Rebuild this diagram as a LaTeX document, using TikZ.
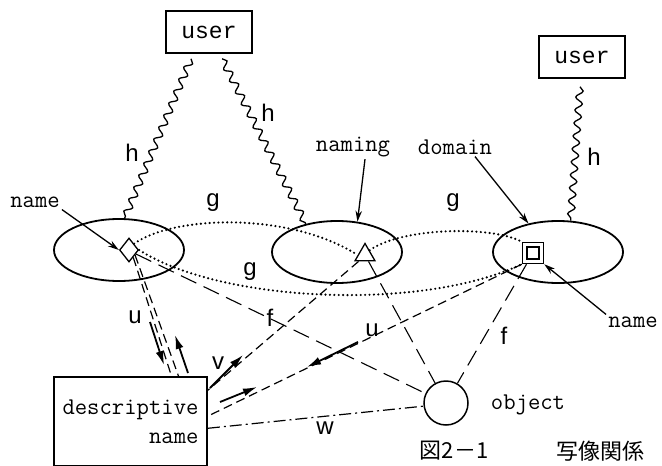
\documentclass[tikz,border=0pt]{standalone}
\usepackage{fontspec}
\usepackage{tikz}
\usetikzlibrary{shapes.geometric,arrows.meta,decorations.pathmorphing}
\newfontfamily\lblfont{Liberation Sans}
\newfontfamily\userfont{Liberation Mono}
\newfontfamily\cjk{Noto Sans CJK JP}

\tikzset{
  userbox/.style={draw, line width=1.5pt, minimum width=86pt, minimum height=42pt, font=\userfont\fontsize{23}{23}\selectfont},
  dom/.style={draw, ellipse, line width=1.8pt, minimum width=130pt, minimum height=62pt},
  word/.style={inner sep=2pt, font=\ttfamily\fontsize{24}{29}\selectfont},
  lbl/.style={inner sep=1pt, font=\lblfont\fontsize{24}{24}\selectfont},
  wavy/.style={decorate, decoration={snake, segment length=13pt, amplitude=3.5pt}, line width=1.3pt},
  dots/.style={line width=2.4pt, line cap=round, dash pattern=on 0pt off 4.4pt},
  sdash/.style={line width=1.2pt, dash pattern=on 9pt off 5pt},
  ldash/.style={line width=1.1pt, dash pattern=on 17pt off 8pt},
  dashdot/.style={line width=1.2pt, dash pattern=on 12pt off 4pt on 2pt off 4pt},
  arr/.style={-{Latex[length=14pt,width=8pt]}, line width=1.8pt},
  ptr/.style={-{Stealth[length=11pt,width=6.5pt]}, line width=1.3pt},
}

\begin{document}
\begin{tikzpicture}[x=1pt,y=-1pt]
\useasboundingbox (0,0) rectangle (662,466);

% users
\node[userbox] (userl) at (209,32) {user};
\node[userbox] (userr) at (582,57) {user};

% naming domains
\node[dom] (doml) at (119,250) {};
\node[dom] (domm) at (337,252) {};
\node[dom] (domr) at (558,252) {};

% names in the domains
\node[diamond, draw, line width=1.3pt, minimum width=19pt, minimum height=24pt, inner sep=0pt] (dia) at (129,250) {};
\node[regular polygon, regular polygon sides=3, draw, line width=1.3pt, minimum size=23pt, inner sep=0pt] (tri) at (365,255) {};
\node[draw, line width=1.5pt, minimum size=21pt, inner sep=0pt] (sq) at (533,253) {};
\node[draw, line width=1.1pt, minimum size=12pt, inner sep=0pt] (sqin) at (sq) {};

% descriptive name, object
\node[draw, line width=1.8pt, minimum width=153pt, minimum height=89pt, align=right, word] (desc) at (130.5,421.5) {descriptive\\name};
\node[circle, draw, line width=1.5pt, minimum size=44pt] (obj) at (446,403) {};
\node[word] (objtxt) at (528,405) {object};

% pointers
\node[word] (namel) at (35,202) {name};
\node[word] (naming) at (353,147) {naming};
\node[word] (domain) at (455,147) {domain};
\node[word] (namer) at (633,322) {name};
\draw[ptr] (namel.south east) -- (dia.west);
\draw[ptr] ([xshift=12pt]naming.south) -- (domm.56);
\draw[ptr] ([xshift=20pt]domain.south) -- (domr.136);
\draw[ptr] (namer.north west) -- (sq.south east);

% h
\draw[wavy] ([xshift=-18pt,yshift=-5pt]userl.south) -- (doml.80);
\draw[wavy] ([xshift=13pt,yshift=-5pt]userl.south) -- (domm.138);
\draw[wavy] ([xshift=-2pt,yshift=-8pt]userr.south) -- (domr.68);
\node[lbl] (hl) at (132,153) {h};
\node[lbl] (hm) at (268,113) {h};
\node[lbl] (hr) at (594,157) {h};

% g
\draw[dots] (dia.north east) .. controls (175,215) and (290,212) .. (tri.west);
\draw[dots] (dia.east) .. controls (220,302) and (420,312) .. (sq.south west);
\draw[dots] (tri.north east) .. controls (400,228) and (490,225) .. (sq.north west);
\node[lbl] (gl) at (213,203) {g};
\node[lbl] (gm) at (250,272) {g};
\node[lbl] (gr) at (453,203) {g};

% u, v
\draw[sdash] (dia.-60) -- ([xshift=41pt]desc.north);
\draw[sdash] (dia.-40) -- ([xshift=48pt]desc.north);
\draw[sdash] (tri.south west) -- (desc.22);
\draw[sdash] (sq.south west) -- (desc.4);
\draw[arr] (150,322) -- (164,365);
\draw[arr] (188,373) -- (175,335);
\draw[arr] (210,388) -- (243,355);
\draw[arr] (220,402) -- (257,387);
\draw[arr] (358,342) -- (307,367);
\node[lbl] (ul) at (135,317) {u};
\node[lbl] (ur) at (372,330) {u};
\node[lbl] (v) at (218,363) {v};

% f, w
\draw[ldash] (dia.-30) -- (obj.155);
\draw[ldash] (tri) -- (obj);
\draw[ldash] (sq) -- (obj);
\draw[dashdot] (desc.-5) -- (obj.188);
\node[lbl] (fl) at (270,318) {f};
\node[lbl] (fr) at (504,336) {f};
\node[lbl] (w) at (325,428) {w};

% caption
\node[font=\cjk\fontsize{22}{22}\selectfont] (fig) at (454,451) {図2－1};
\node[font=\cjk\fontsize{22}{22}\selectfont] (title) at (600,451) {写像関係};
\end{tikzpicture}
\end{document}
